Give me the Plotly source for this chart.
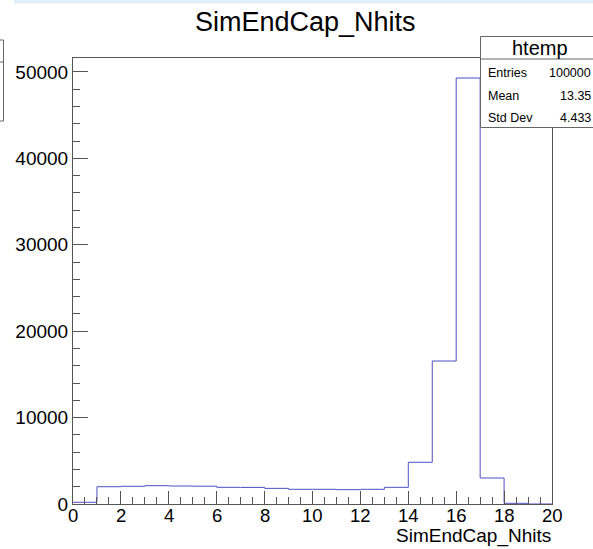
import plotly.graph_objects as go

# Histogram of SimEndCap_Nhits: unit-width bins from 0 to 20
bin_low = [0, 1, 2, 3, 4, 5, 6, 7, 8, 9, 10, 11, 12, 13, 14, 15, 16, 17, 18, 19]
bin_high_edge = 20
counts = [200, 2000, 2050, 2120, 2080, 2060, 1930, 1920, 1810, 1700,
          1700, 1660, 1700, 1930, 4830, 16550, 49300, 3010, 80, 0]

x_ticks = [0, 2, 4, 6, 8, 10, 12, 14, 16, 18, 20]
y_ticks = [0, 10000, 20000, 30000, 40000, 50000]

stats_title = "htemp"
stats_names = ["Entries", "Mean", "Std Dev"]
stats_values = ["100000", "13.35", "4.433"]

W, H = 593, 549
L, R, T, B = 73, 552, 58, 504  # plot frame in pixels
y_max = max(counts) * 1.047


def px(xp):
    return (xp - L) / (R - L)


def py(yp):
    return (B - yp) / (B - T)


FONT = "Liberation Sans, Arial, Helvetica, sans-serif"
LINE_BLUE = "#4f4fc4"
AXIS = "#555555"

step_x = bin_low + [bin_high_edge]
step_y = counts + [counts[-1]]

fig = go.Figure()
fig.add_trace(go.Scatter(
    x=step_x, y=step_y, mode="lines", line_shape="hv",
    line=dict(color=LINE_BLUE, width=1), hoverinfo="skip", showlegend=False,
))

fig.update_layout(
    width=W, height=H,
    margin=dict(l=L, r=W - R, t=T, b=H - B),
    paper_bgcolor="white", plot_bgcolor="white",
    font=dict(family=FONT, color="black"),
    showlegend=False,
    xaxis=dict(
        range=[0, 20], tickvals=x_ticks, showticklabels=False,
        ticks="inside", ticklen=13, tickcolor=AXIS, tickwidth=1,
        minor=dict(dtick=0.5, tick0=0, ticks="inside", ticklen=7, tickcolor=AXIS, tickwidth=1),
        showline=True, linecolor=AXIS, linewidth=1, mirror=True,
        showgrid=False, zeroline=False,
    ),
    yaxis=dict(
        range=[0, y_max], tickvals=y_ticks, ticktext=[str(v) for v in y_ticks],
        ticks="inside", ticklen=15, tickcolor=AXIS, tickwidth=1,
        minor=dict(dtick=2000, tick0=0, ticks="inside", ticklen=7, tickcolor=AXIS, tickwidth=1),
        showline=True, linecolor=AXIS, linewidth=1, mirror=True,
        showgrid=False, zeroline=False, tickfont=dict(size=19, family=FONT),
    ),
)

shapes = []
annotations = []

# x tick labels, placed on the x axis scale just below the frame
for v in x_ticks:
    annotations.append(dict(text=str(v), xref="x", yref="paper",
                            x=v, y=py(515), xanchor="center", yanchor="middle",
                            showarrow=False, font=dict(size=18.5, family=FONT, color="black")))

# light band along the top edge of the canvas
shapes.append(dict(type="rect", xref="paper", yref="paper",
                   x0=px(14), x1=px(W + 5), y0=py(3.5), y1=py(-5),
                   line=dict(width=0), fillcolor="#dfeefa", layer="above"))

# partial box on the left edge
shapes.append(dict(type="rect", xref="paper", yref="paper",
                   x0=px(-10), x1=px(3.5), y0=py(121), y1=py(40),
                   line=dict(color="#666666", width=1), fillcolor="white", layer="above"))
shapes.append(dict(type="line", xref="paper", yref="paper",
                   x0=px(-10), x1=px(3.5), y0=py(62), y1=py(62),
                   line=dict(color="#666666", width=1), layer="above"))

# statistics box
box_l, box_r, box_t, box_b, box_sep = 480.5, 600, 36.5, 127.5, 59
shapes.append(dict(type="rect", xref="paper", yref="paper",
                   x0=px(box_l), x1=px(box_r), y0=py(box_b), y1=py(box_t),
                   line=dict(color="#666666", width=1), fillcolor="white", layer="above"))
shapes.append(dict(type="line", xref="paper", yref="paper",
                   x0=px(box_l), x1=px(box_r), y0=py(box_sep), y1=py(box_sep),
                   line=dict(color="#666666", width=1), layer="above"))

annotations.append(dict(text=stats_title, xref="paper", yref="paper",
                        x=px(539.5), y=py(48), xanchor="center", yanchor="middle",
                        showarrow=False, font=dict(size=20, family=FONT, color="black")))
row_y = [73, 96, 118]
for name, val, yy in zip(stats_names, stats_values, row_y):
    annotations.append(dict(text=name, xref="paper", yref="paper",
                            x=px(486), y=py(yy), xanchor="left", yanchor="middle",
                            showarrow=False, font=dict(size=12.5, family=FONT, color="black")))
    annotations.append(dict(text=val, xref="paper", yref="paper",
                            x=px(592.5), y=py(yy), xanchor="right", yanchor="middle",
                            showarrow=False, font=dict(size=12.5, family=FONT, color="black")))

# title and x-axis label
annotations.append(dict(text="SimEndCap_Nhits", xref="paper", yref="paper",
                        x=px(305), y=py(22), xanchor="center", yanchor="middle",
                        showarrow=False, font=dict(size=27, family=FONT, color="black")))
annotations.append(dict(text="SimEndCap_Nhits", xref="paper", yref="paper",
                        x=px(553), y=py(536), xanchor="right", yanchor="middle",
                        showarrow=False, font=dict(size=19, family=FONT, color="black")))

fig.update_layout(shapes=shapes, annotations=annotations)
fig.write_html("out.html")
